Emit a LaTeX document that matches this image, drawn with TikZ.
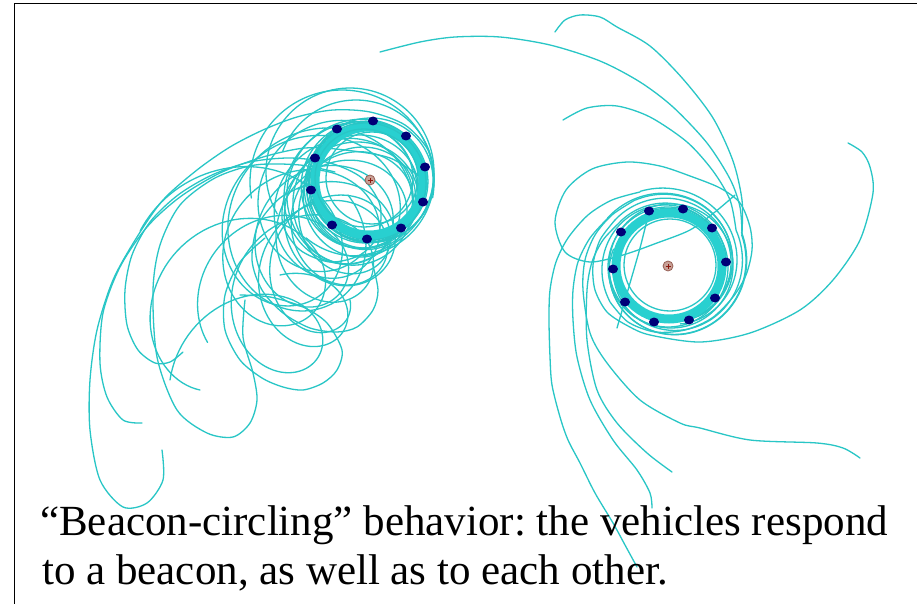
\documentclass[tikz,border=0pt]{standalone}
\usepackage{fontspec}
\setmainfont{Liberation Serif}
\frenchspacing
\definecolor{traj}{RGB}{40,198,198}
\definecolor{bandc}{RGB}{40,208,208}
\definecolor{navy}{RGB}{0,0,120}
\definecolor{beaconfill}{RGB}{200,160,150}
\definecolor{beacondraw}{RGB}{150,95,85}
\definecolor{beaconmark}{RGB}{140,25,15}
\tikzset{
  trajline/.style={draw=traj, line width=1.3pt, line cap=round, line join=round},
  bandline/.style={draw=bandc, line width=9pt},
  vehicle/.style={ellipse, fill=navy, inner sep=0pt, minimum width=10pt, minimum height=9pt},
  beaconnode/.style={circle, draw=beacondraw, fill=beaconfill, line width=0.8pt, inner sep=0pt, minimum size=10pt},
  caption/.style={anchor=base west, inner sep=0pt, font=\fontsize{43}{50}\selectfont},
}
\usetikzlibrary{shapes.geometric}
\begin{document}
\begin{tikzpicture}[x=1pt,y=-1pt]
\useasboundingbox (0,0) rectangle (917,604);
\fill[white] (0,0) rectangle (917,604);

% ---------- left cluster: looping trajectories ----------
\foreach \sx/\sy/\ro/\ph/\w in {230/380/60/180/1440, 280/330/55/270/1260, 200/320/70/90/1440,
  300/300/50/0/1080, 220/260/85/200/1080, 270/240/90/330/900, 310/200/75/45/720,
  250/300/60/135/1260, 320/250/65/250/900}{
  \draw[trajline] plot[domain=0:1, samples=320, variable=\t]
    ({369+(\sx-369)*(1-\t)*(1-\t)+(56+(\ro-56)*(1-\t))*cos(\ph+\w*\t)},
     {180+(\sy-180)*(1-\t)*(1-\t)+(56+(\ro-56)*(1-\t))*sin(\ph+\w*\t)});
}
% big loops around the left ring
\foreach \cx/\cy/\r/\a/\s in {350/172/84/150/300, 356/178/78/200/290, 342/182/92/170/200}{
  \draw[trajline] plot[domain=0:1, samples=90, variable=\u]
    ({\cx+\r*cos(\a+\s*\u)},{\cy+\r*sin(\a+\s*\u)});
}
% traced outer arcs
\draw[trajline] plot[smooth] coordinates {(162,450) (163,480) (147,503) (123,507) (100,480) (90,430) (90,380) (97,330) (113,280) (137,237) (163,200) (197,170) (230,147) (263,130) (297,117) (333,110) (370,112) (405,125) (428,150) (434,180)};
\draw[trajline] plot[smooth] coordinates {(142,423) (123,420) (107,397) (100,363) (103,313) (120,267) (147,227) (180,197) (220,173) (263,157) (305,148) (345,150) (390,158) (422,178)};
\draw[trajline] plot[smooth] coordinates {(183,352) (170,362) (155,363) (138,350) (127,325) (125,290) (132,255) (150,222) (178,195) (212,175) (250,162) (290,158) (330,163) (362,178) (380,205) (378,235) (360,255) (330,262) (300,250) (283,225) (285,195) (305,165) (335,145)};
\draw[trajline] plot[smooth] coordinates {(245,300) (243,337) (253,373) (257,400) (250,423) (233,437) (207,433) (177,410) (157,357) (153,290) (160,245) (180,205) (215,178) (255,165) (300,165) (335,172)};
\draw[trajline] plot[smooth] coordinates {(372,262) (378,290) (373,310) (357,327) (337,332) (310,328) (283,313) (262,290) (252,260) (258,225) (280,198) (310,183)};
\draw[trajline] plot[smooth] coordinates {(240,295) (270,297) (303,307) (327,323) (342,350) (337,370) (323,383) (303,390) (283,387) (262,378) (240,360) (225,330) (225,295) (240,262) (265,238)};
% tails onto the left ring
\foreach \a/\r/\s/\e in {0/65/300/57, -2/53/200/58, 226/49/274/55}{
  \draw[trajline] plot[domain=0:1, samples=60, variable=\u]
    ({369+(\r+(\e-\r)*\u)*cos(\a+\s*\u)},{180+(\r+(\e-\r)*\u)*sin(\a+\s*\u)});
}
% left ring band and near circles
\draw[bandline] (369,181) circle[radius=54pt];
\draw[trajline] (372,178) circle[radius=46pt];
\draw[trajline] (366,183) circle[radius=60pt];
\draw[trajline] (371,180) circle[radius=62pt];
\draw[trajline] (364,178) circle[radius=49pt];

% ---------- right cluster: spiral arms ----------
\draw[trajline] plot[smooth] coordinates {(380,52) (420,42) (455,37) (500,37) (550,45) (600,61) (640,82) (673,107) (707,143) (730,179) (740,207) (742,235)};
\draw[trajline] plot[smooth] coordinates {(555,32) (565,20) (580,15) (600,17) (617,27) (650,46) (683,79) (713,118) (733,161) (742,200) (742,232)};
\draw[trajline] plot[smooth] coordinates {(563,120) (587,108) (617,106) (650,117) (687,142) (713,171) (730,200) (736,230)};
\draw[trajline] plot[smooth] coordinates {(735,195) (715,212) (690,230) (657,243) (623,255) (590,262) (565,252) (555,222) (566,190) (592,169) (627,162) (660,166) (690,176) (720,188) (740,203) (750,227) (752,250) (746,275) (733,297) (712,318) (685,330) (655,332) (628,322) (610,302)};
\draw[trajline] plot[smooth] coordinates {(848,143) (862,152) (870,167) (873,193) (860,240) (833,280) (800,310) (750,333) (700,342) (650,335) (628,326) (607,312) (595,290) (593,265) (600,240) (615,220)};
\draw[trajline] plot[smooth] coordinates {(860,458) (843,448) (817,443) (750,440) (700,428) (680,423) (640,400) (607,363) (590,333) (583,290) (585,260) (595,235) (612,215) (635,200)};
\draw[trajline] plot[smooth] coordinates {(637,567) (625,545) (613,523) (595,493) (580,463) (568,440) (560,417) (552,385) (550,357) (549,320) (550,290) (556,262) (568,238) (588,215) (612,200) (640,192)};
\draw[trajline] plot[smooth] coordinates {(652,508) (650,493) (637,470) (613,440) (590,400) (577,357) (573,320) (573,290) (578,262) (590,238) (608,218)};
\draw[trajline] plot[smooth] coordinates {(672,472) (647,453) (617,423) (597,390) (587,340) (587,290) (592,262) (603,240) (620,222)};
\draw[trajline] plot[smooth] coordinates {(617,328) (628,290) (640,248) (649,212)};
% tails onto the right ring
\foreach \a/\r/\s/\e in {-23/79/220/58, -25/80/200/60, -28/76/200/56, 149/69/180/57, 220/71/200/58,
  243/74/200/56, 249/80/190/59, 218/78/200/57, 222/66/180/54, 250/58/200/55}{
  \draw[trajline] plot[domain=0:1, samples=70, variable=\u]
    ({669+(\r+(\e-\r)*\u)*cos(\a+\s*\u)},{266+(\r+(\e-\r)*\u)*sin(\a+\s*\u)});
}
\draw[bandline] (669,266) circle[radius=53pt];
\draw[trajline] (670,265) circle[radius=46pt];
\draw[trajline] (668,267) circle[radius=60pt];
\draw[trajline] (671,266) circle[radius=62pt];

% ---------- beacons ----------
\node[beaconnode] (b1) at (370,180) {};
\node[beaconnode] (b2) at (668,266) {};
\foreach \b in {b1,b2}{
  \draw[beaconmark, line width=0.9pt] ([xshift=-2.5pt]\b.center) -- ([xshift=2.5pt]\b.center);
  \draw[beaconmark, line width=0.9pt] ([yshift=-2.5pt]\b.center) -- ([yshift=2.5pt]\b.center);
}

% ---------- vehicles ----------
\foreach \x/\y [count=\i] in {373/121, 406/136, 425/167, 423/202, 401/228, 367/239, 332/225, 311/190, 315/158, 337/129}{
  \node[vehicle] (vl\i) at (\x,\y) {};
}
\foreach \x/\y [count=\i] in {649/211, 683/209, 712/228, 726/262, 715/298, 689/320, 654/322, 625/302, 613/269, 621/232}{
  \node[vehicle] (vr\i) at (\x,\y) {};
}

% ---------- frame ----------
\draw[black, line width=1.6pt] (14.5,604) -- (14.5,3.5) -- (917,3.5);

% ---------- caption ----------
\node[caption] (cap1) at (40,535) {“Beacon-circling” behavior: the vehicles respond};
\node[caption] (cap2) at (42,584) {to a beacon, as well as to each other.};
\end{tikzpicture}
\end{document}
